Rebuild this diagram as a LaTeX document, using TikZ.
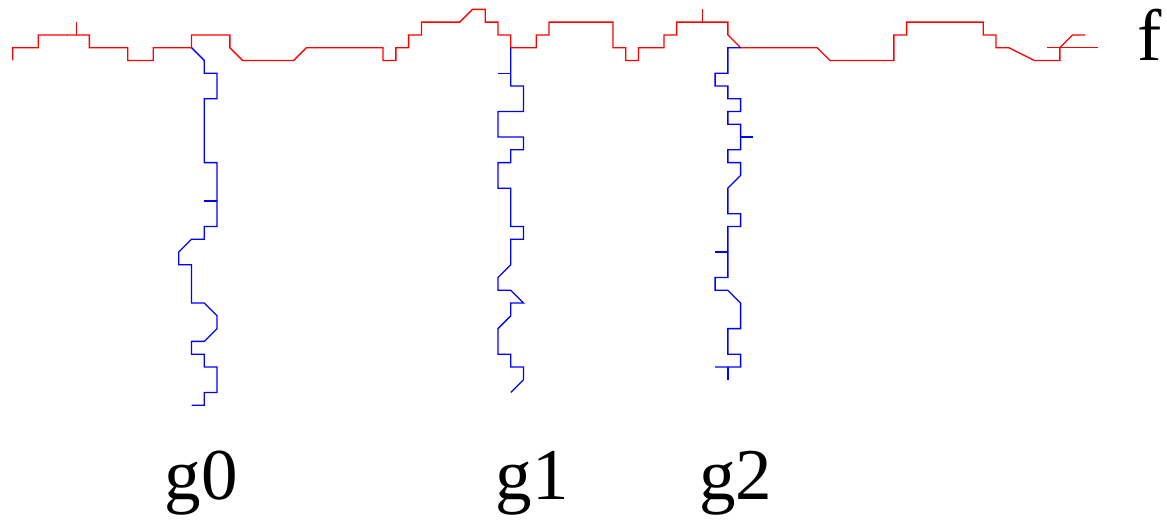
\documentclass[tikz,border=0pt]{standalone}
\usepackage{fontspec}
\setmainfont{Liberation Serif}
\begin{document}
\begin{tikzpicture}[x=6.385pt,y=6.385pt,
  fpath/.style={draw=red,line width=0.65pt,line join=miter},
  gpath/.style={draw=blue,line width=0.65pt,line join=miter},
  lbl/.style={anchor=base,inner sep=0pt,font=\fontsize{36.5}{40}\selectfont}]
\useasboundingbox (0,-36.98) rectangle (91.39,3.735);
% f path
\draw[fpath] (1,-1)--(1,0)--(3,0)--(3,1)--(7,1)--(7,0)--(10,0)--(10,-1)--(12,-1)--(12,0)--(15,0)--(15,1)--(18,1)--(18,0)--(19,-1)--(23,-1)--(24,0)--(30,0)--(30,-1)--(31,-1)--(31,0)--(32,0)--(32,1)--(33,1)--(33,2)--(36,2)--(37,3)--(38,3)--(38,2)--(39,2)--(39,1)--(40,1)--(40,0)--(42,0)--(42,1)--(43,1)--(43,2)--(48,2)--(48,0)--(49,0)--(49,-1)--(50,-1)--(50,0)--(52,0)--(52,1)--(53,1)--(53,2)--(57,2)--(57,1)--(58,0)--(64,0)--(65,-1)--(70,-1)--(70,1)--(71,1)--(71,2)--(77,2)--(77,1)--(78,1)--(78,0)--(79,0)--(81,-1)--(83,-1)--(83,0)--(84,1)--(85,1);
\draw[fpath] (6,1)--(6,2);
\draw[fpath] (55,2)--(55,3);
\draw[fpath] (82,0)--(86,0);
\draw[fpath] (82,0)--(83,0);
% g0
\draw[gpath] (15,0)--(16,-1)--(16,-2)--(17,-2)--(17,-4)--(16,-4)--(16,-9)--(17,-9)--(17,-14)--(16,-14)--(16,-15)--(15,-15)--(14,-16)--(14,-17)--(15,-17)--(15,-20)--(16,-20)--(17,-21)--(17,-22)--(16,-23)--(15,-23)--(15,-24)--(16,-24)--(16,-25)--(17,-25)--(17,-27)--(16,-27)--(16,-28)--(15,-28);
\draw[gpath] (16,-12)--(17,-12);
% g1
\draw[gpath] (40,0)--(40,-3)--(41,-3)--(41,-5)--(39,-5)--(39,-7)--(41,-7)--(41,-8)--(40,-8)--(40,-9)--(39,-9)--(39,-11)--(40,-11)--(40,-14)--(41,-14)--(41,-15)--(40,-15)--(40,-17)--(39,-18)--(39,-19)--(40,-19)--(41,-20)--(40,-20)--(40,-21)--(39,-22)--(39,-24)--(40,-24)--(40,-25)--(41,-25)--(41,-26)--(40,-27);
\draw[gpath] (39,-2)--(40,-2);
% g2
\draw[gpath] (58,0)--(57,0)--(57,-2)--(56,-2)--(56,-3)--(57,-3)--(57,-4)--(58,-4)--(58,-5)--(57,-5)--(57,-6)--(58,-6)--(58,-8)--(57,-8)--(57,-9)--(58,-9)--(58,-10)--(57,-11)--(57,-13)--(58,-13)--(58,-14)--(57,-14)--(57,-18)--(56,-18)--(56,-19)--(57,-19)--(58,-20)--(58,-22)--(57,-22)--(57,-24)--(58,-24)--(58,-25)--(56,-25);
\draw[gpath] (57,-25)--(57,-26);
\draw[gpath] (58,-7)--(59,-7);
\draw[gpath] (56,-16)--(57,-16);
% labels
\node[lbl] (lf) at (90,-1) {f};
\node[lbl] (lg0) at (15.75,-35.4) {g0};
\node[lbl] (lg1) at (41.7,-35.4) {g1};
\node[lbl] (lg2) at (57.6,-35.4) {g2};
\end{tikzpicture}
\end{document}
